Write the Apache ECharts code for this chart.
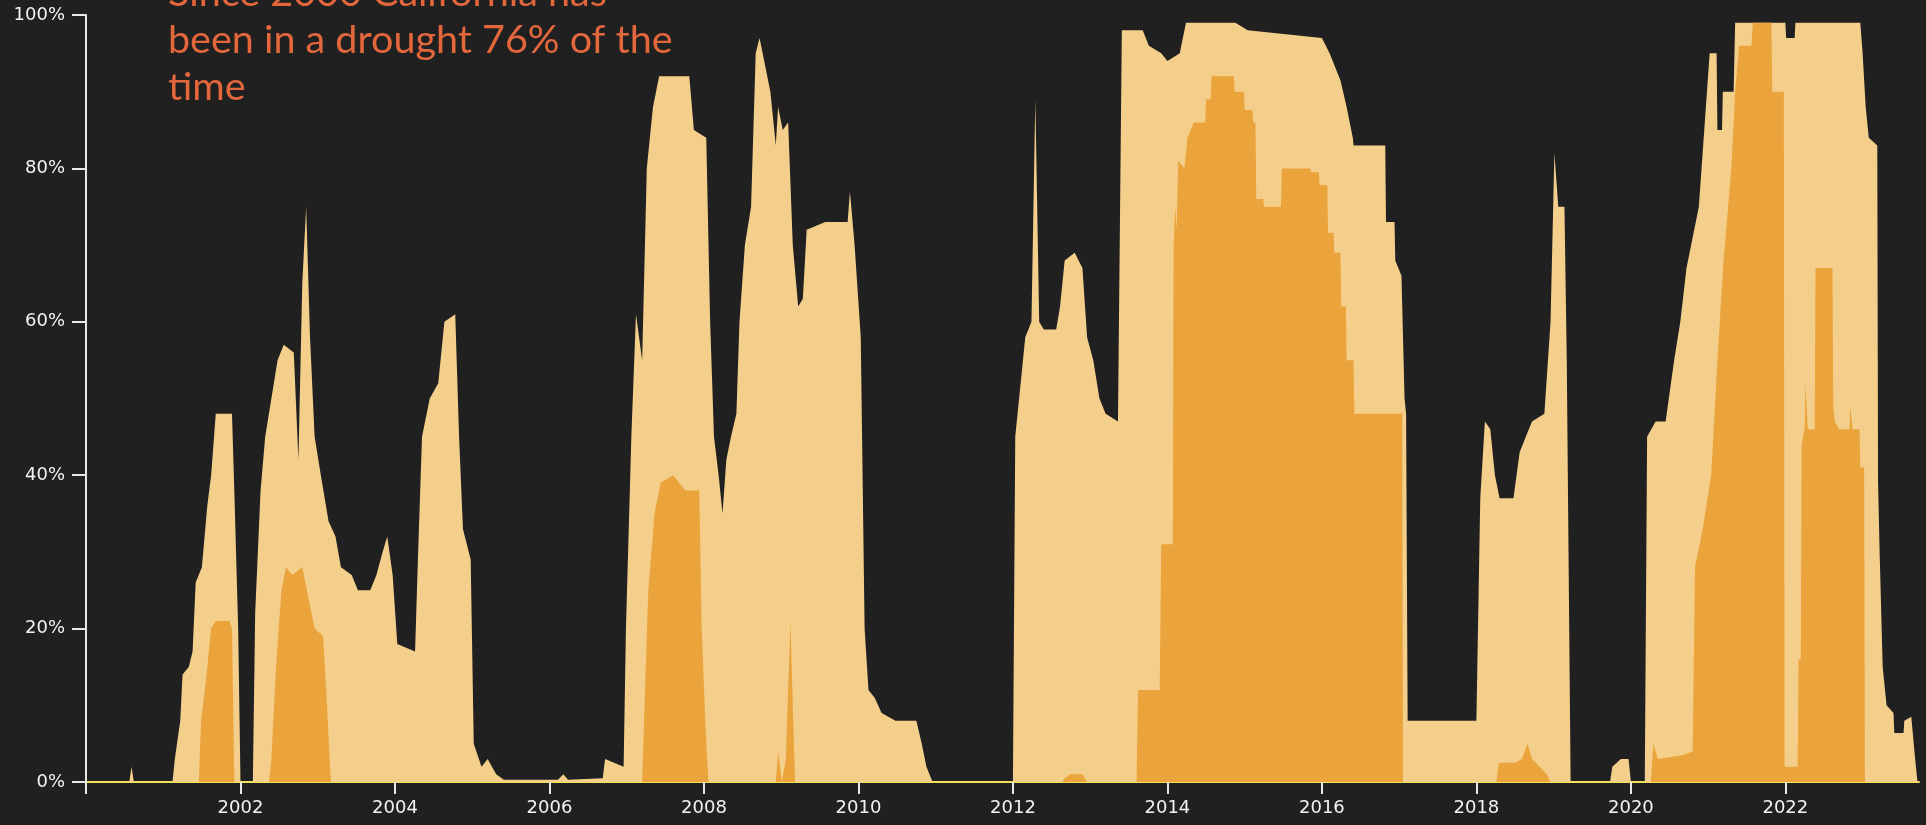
<!DOCTYPE html>
<html>
<head>
<meta charset="utf-8">
<script src="https://cdn.jsdelivr.net/npm/echarts@6/dist/echarts.min.js"></script>
<style>
html,body{margin:0;padding:0;background:#202020;}
#chart{width:1926px;height:825px;}
</style>
</head>
<body>
<div id="chart"></div>
<script>
// Light area: share of California in drought (decimal year, percent)
const lightYears = [2000.00,2000.56,2000.59,2000.62,2001.12,2001.15,2001.22,2001.25,2001.33,2001.38,2001.42,2001.50,2001.57,2001.62,2001.68,2001.89,2001.92,2001.97,2002.00,2002.16,2002.19,2002.26,2002.32,2002.40,2002.48,2002.56,2002.69,2002.75,2002.80,2002.85,2002.90,2002.96,2003.04,2003.14,2003.23,2003.30,2003.44,2003.52,2003.68,2003.76,2003.84,2003.90,2003.97,2004.03,2004.26,2004.30,2004.35,2004.45,2004.56,2004.64,2004.78,2004.83,2004.88,2004.98,2005.02,2005.12,2005.20,2005.31,2005.41,2006.11,2006.18,2006.24,2006.69,2006.72,2006.96,2006.99,2007.06,2007.12,2007.20,2007.26,2007.34,2007.42,2007.81,2007.87,2008.03,2008.08,2008.13,2008.19,2008.24,2008.29,2008.35,2008.42,2008.46,2008.53,2008.61,2008.67,2008.72,2008.80,2008.86,2008.93,2008.96,2009.02,2009.09,2009.15,2009.22,2009.28,2009.33,2009.57,2009.86,2009.89,2009.95,2010.03,2010.08,2010.13,2010.21,2010.30,2010.48,2010.75,2010.82,2010.88,2010.96,2012.00,2012.03,2012.16,2012.24,2012.29,2012.34,2012.40,2012.56,2012.61,2012.67,2012.80,2012.90,2012.96,2013.04,2013.12,2013.20,2013.36,2013.41,2013.68,2013.76,2013.92,2014.00,2014.16,2014.24,2014.88,2015.04,2016.00,2016.10,2016.18,2016.24,2016.32,2016.40,2016.41,2016.82,2016.83,2016.94,2016.95,2017.03,2017.07,2017.09,2017.11,2018.00,2018.05,2018.11,2018.18,2018.24,2018.30,2018.48,2018.56,2018.64,2018.72,2018.88,2018.96,2019.01,2019.06,2019.14,2019.17,2019.22,2019.73,2019.76,2019.87,2019.97,2020.00,2020.18,2020.21,2020.32,2020.45,2020.56,2020.64,2020.72,2020.88,2021.02,2021.11,2021.12,2021.18,2021.19,2021.33,2021.35,2022.00,2022.01,2022.12,2022.13,2022.97,2023.00,2023.04,2023.08,2023.19,2023.20,2023.22,2023.26,2023.31,2023.40,2023.41,2023.53,2023.54,2023.63,2023.68,2023.71,2023.73];
const lightValues = [0,0,2,0,0,3,8,14,15,17,26,28,36,40,48,48,38,20,0,0,22,38,45,50,55,57,56,42,65,75,58,45,40,34,32,28,27,25,25,27,30,32,27,18,17,30,45,50,52,60,61,45,33,29,5,2,3,1,0.3,0.3,1,0.3,0.5,3,2,20,45,61,55,80,88,92,92,85,84,60,45,40,35,42,45,48,60,70,75,95,97,93,90,83,88,85,86,70,62,63,72,73,73,77,70,58,20,12,11,9,8,8,5,2,0,0,45,58,60,89,60,59,59,62,68,69,67,58,55,50,48,47,98,98,96,95,94,95,99,99,98,97,95,93,91.5,88,84,83,83,73,73,68,66,50,48,8,8,37,47,46,40,37,37,43,45,47,48,60,82,75,75,55,0,0,2,3,3,0,0,45,47,47,55,60,67,75,95,95,85,85,90,90,99,99,97,97,99,99,95,88,84,83,39,30,15,10,9,6.4,6.4,8,8.5,3,0,0];

// Orange area: share in severe drought or worse
const orangeYears = [2000.00,2001.46,2001.49,2001.55,2001.62,2001.68,2001.86,2001.89,2001.92,2002.37,2002.40,2002.46,2002.53,2002.59,2002.67,2002.80,2002.88,2002.96,2003.07,2003.12,2003.17,2007.20,2007.23,2007.28,2007.36,2007.44,2007.60,2007.76,2007.94,2007.97,2008.03,2008.06,2008.93,2008.96,2009.01,2009.06,2009.09,2009.12,2009.15,2009.18,2012.64,2012.67,2012.74,2012.90,2012.96,2013.60,2013.62,2013.90,2013.92,2014.07,2014.08,2014.10,2014.12,2014.14,2014.22,2014.26,2014.34,2014.49,2014.50,2014.56,2014.57,2014.86,2014.87,2014.99,2015.00,2015.10,2015.11,2015.14,2015.15,2015.24,2015.25,2015.47,2015.48,2015.85,2015.86,2015.96,2015.97,2016.07,2016.08,2016.15,2016.16,2016.24,2016.25,2016.31,2016.32,2016.41,2016.42,2017.04,2017.05,2018.26,2018.29,2018.50,2018.59,2018.66,2018.72,2018.82,2018.91,2018.96,2020.26,2020.29,2020.35,2020.67,2020.80,2020.83,2020.93,2021.04,2021.12,2021.20,2021.30,2021.35,2021.40,2021.56,2021.58,2021.82,2021.83,2021.98,2021.99,2022.16,2022.17,2022.20,2022.21,2022.25,2022.26,2022.28,2022.29,2022.38,2022.39,2022.61,2022.62,2022.64,2022.70,2022.83,2022.84,2022.86,2022.87,2022.96,2022.97,2023.02,2023.03,2023.73];
const orangeValues = [0,0,8,13,20,21,21,20,0,0,3,15,25,28,27,28,24,20,19,10,0,0,10,25,35,39,40,38,38,20,5,0,0,4,0,3,12,21,10,0,0,0.5,1,1,0,0,12,12,31,31,70,75,72,81,80,84,86,86,89,89,92,92,90,90,87.6,87.6,86,86,76,76,75,75,80,80,79.5,79.5,77.8,77.8,71.6,71.6,69,69,62,62,55,55,48,48,0,0,2.5,2.5,3,5,3,2,1,0,0,5,3,3.5,4,28,33,40,55,68,80,90,96,96,99,99,90,90,2,2,16,16,44,46,52,52,46,46,67,67,49,47,46,46,49,49,46,46,41,41,0,0];

// Axis ticks
const yTicks = [0, 20, 40, 60, 80, 100];
const xStart = 2000, xEnd = 2023.73, xStep = 2;
const noteLines = ['Since 2000 California has', 'been in a drought 76% of the', 'time'];

const pairs = (xs, ys) => xs.map((x, i) => [x, ys[i]]);

const chart = echarts.init(document.getElementById('chart'));
chart.setOption({
  backgroundColor: '#202020',
  animation: false,
  grid: { left: 86, right: 7, top: 15, bottom: 43 },
  xAxis: {
    type: 'value', min: xStart, max: xEnd, interval: xStep,
    axisLine: { lineStyle: { color: '#f2df5a', width: 2 } },
    axisTick: { length: 12, lineStyle: { color: '#e8e8e8', width: 2 } },
    splitLine: { show: false },
    axisLabel: {
      color: '#f2f2f2', fontSize: 18, fontFamily: 'DejaVu Sans', margin: 17,
      showMaxLabel: false,
      formatter: v => (v === xStart ? '' : String(Math.round(v)))
    }
  },
  yAxis: {
    type: 'value', min: yTicks[0], max: yTicks[yTicks.length - 1], interval: 20,
    axisLine: { show: true, lineStyle: { color: '#e8e8e8', width: 2 } },
    axisTick: { show: true, length: 14, lineStyle: { color: '#e8e8e8', width: 2 } },
    splitLine: { show: false },
    axisLabel: { color: '#f2f2f2', fontSize: 18, fontFamily: 'DejaVu Sans', margin: 21, formatter: v => v + '%' }
  },
  series: [
    {
      type: 'line', data: pairs(lightYears, lightValues), showSymbol: false,
      lineStyle: { width: 0 }, areaStyle: { color: '#f4cf8b', opacity: 1 }, z: 2
    },
    {
      type: 'line', data: pairs(orangeYears, orangeValues), showSymbol: false,
      lineStyle: { width: 0 }, areaStyle: { color: '#eba43c', opacity: 1 }, z: 3
    }
  ],
  graphic: [{
    type: 'text', left: 168, top: -30, z: 10,
    style: {
      text: noteLines.join('\n'), fill: '#e3673c',
      font: '39.5px Lato', lineHeight: 47
    }
  }]
});
</script>
</body>
</html>
